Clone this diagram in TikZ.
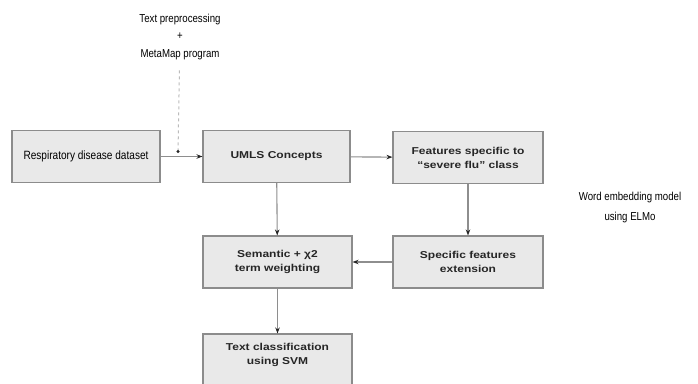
\documentclass[tikz,border=0pt]{standalone}
\usepackage{fontspec}
\usetikzlibrary{arrows.meta,positioning,calc}
\newfontfamily\boxfont[FakeStretch=1.2]{Liberation Sans}
\newfontfamily\narrowfont[FakeStretch=0.84]{Liberation Sans}
\definecolor{boxfill}{HTML}{E9E9E9}
\definecolor{boxline}{HTML}{8C8C8C}
\definecolor{lnk}{HTML}{8E8E8E}
\tikzset{blk/.style={draw=boxline,fill=boxfill,line width=1.1pt,rectangle,minimum width=148pt,minimum height=52pt,align=center,text=black!85,font=\boxfont\bfseries\fontsize{10}{14}\selectfont},
 nblk/.style={blk,font=\narrowfont\fontsize{12}{14}\selectfont,text=black},
 note/.style={align=center,font=\narrowfont\fontsize{11.5}{17.5}\selectfont},
 flw/.style={draw=lnk,line width=1.1pt,-{Stealth[length=6pt,width=4.5pt,color=black!85]}},
 aux/.style={draw=lnk!60,line width=1pt,dashed,shorten <=7pt,-{Circle[length=3pt,color=black!85]}}}
\newcommand{\flow}[2]{\draw[flw](#1)--(#2);}
\begin{document}
\begin{tikzpicture}[x=1pt,y=-1pt]
\useasboundingbox(0,0)rectangle(698,383);
\node[nblk](ds) at(86,156.5){Respiratory disease dataset};
\node[blk,minimum width=147pt](um) at(276.5,156.5){UMLS Concepts};
\node[blk,minimum width=150pt](fs) at(468,157.5){Features specific to\\“severe flu” class};
\node[blk,minimum width=150pt](sf) at(468,262){Specific features\\extension};
\node[blk,minimum width=149pt](sw) at(277.5,262){Semantic + χ2\\term weighting};
\node[blk,minimum width=149pt,minimum height=53pt](tc) at(277.5,360.5){Text classification\\using SVM\\~};
\node[note](pre) at(180,37){Text preprocessing\\+\\MetaMap program};
\node[note,font=\narrowfont\fontsize{11.5}{20}\selectfont](we) at(630,208){Word embedding model\\using ELMo};
\coordinate(j) at(178,153);
\flow{ds}{um}\flow{um}{fs}\flow{fs}{sf}
\flow{sf}{sw}\flow{um}{sw}\flow{sw}{tc}
\draw[aux](pre)--(j);
\end{tikzpicture}
\end{document}
